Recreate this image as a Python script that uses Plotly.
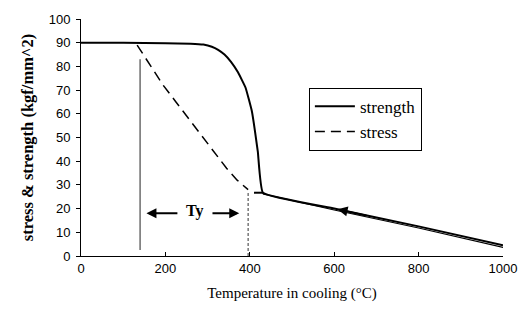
import plotly.graph_objects as go

# Strength curve (kgf/mm^2) vs temperature in cooling (°C)
strength_T = [0, 100, 200, 260, 290, 310, 325, 340, 355, 372, 390, 405, 419, 431, 600, 800, 1000]
strength_v = [90, 90, 89.8, 89.6, 89.2, 88.3, 87, 85, 82, 77.5, 71, 61, 44, 26.7, 20, 12.5, 4.5]

# Stress curve
stress_T = [133, 165, 195, 225, 255, 285, 315, 345, 370, 396]
stress_v = [89, 80, 72, 65, 58, 51, 44, 37, 32, 28]
stress_hot_T = [431, 600, 800, 1000]
stress_hot_v = [26.2, 19.4, 11.8, 3.6]

# short horizontal stub at the junction
stub_T = [410, 431]
stub_v = [26.7, 26.7]

# vertical marker lines
mark1_T = [140, 140]
mark1_v = [2.5, 83]
mark2_T = [396, 396]
mark2_v = [0, 26.7]

x_ticks = [0, 200, 400, 600, 800, 1000]
y_ticks = [0, 10, 20, 30, 40, 50, 60, 70, 80, 90, 100]

serif = "Liberation Serif, Times New Roman, serif"
sans = "Liberation Sans, Arial, sans-serif"

fig = go.Figure()
fig.add_trace(go.Scatter(x=strength_T, y=strength_v, mode="lines", name="strength",
                         line=dict(color="black", width=2, shape="spline", smoothing=0.3)))
fig.add_trace(go.Scatter(x=stress_T, y=stress_v, mode="lines", name="stress",
                         line=dict(color="black", width=1.5, dash="10px,6px")))
fig.add_trace(go.Scatter(x=stress_hot_T, y=stress_hot_v, mode="lines", showlegend=False,
                         line=dict(color="black", width=1.2)))
fig.add_trace(go.Scatter(x=stub_T, y=stub_v, mode="lines", showlegend=False,
                         line=dict(color="black", width=2)))
fig.add_trace(go.Scatter(x=mark1_T, y=mark1_v, mode="lines", showlegend=False,
                         line=dict(color="#555555", width=1.3)))
fig.add_trace(go.Scatter(x=mark2_T, y=mark2_v, mode="lines", showlegend=False,
                         line=dict(color="#333333", width=1, dash="3px,2px")))

annotations = [
    dict(x=270, y=19, text="<b>Ty</b>", showarrow=False,
         font=dict(family=serif, size=16, color="black")),
    dict(x=155, y=18, ax=232, ay=18, xref="x", yref="y", axref="x", ayref="y",
         text="", showarrow=True, arrowhead=2, arrowsize=1, arrowwidth=2, arrowcolor="black"),
    dict(x=375, y=18, ax=308, ay=18, xref="x", yref="y", axref="x", ayref="y",
         text="", showarrow=True, arrowhead=2, arrowsize=1, arrowwidth=2, arrowcolor="black"),
    dict(x=608, y=19.7, ax=680, ay=16.9, xref="x", yref="y", axref="x", ayref="y",
         text="", showarrow=True, arrowhead=2, arrowsize=1, arrowwidth=2, arrowcolor="black"),
]

fig.update_layout(
    width=530, height=322,
    margin=dict(l=81, r=27, t=16, b=66),
    paper_bgcolor="white", plot_bgcolor="white",
    annotations=annotations,
    legend=dict(x=0.54, y=0.71, xanchor="left", yanchor="top",
                bordercolor="black", borderwidth=1, bgcolor="white",
                font=dict(family=serif, size=17, color="black"),
                itemwidth=40, tracegroupgap=6, entrywidth=110, entrywidthmode="pixels"),
    xaxis=dict(range=[0, 1000], tickvals=x_ticks, showgrid=False, zeroline=False,
               showline=True, linecolor="black", linewidth=1,
               ticks="inside", ticklen=4, tickcolor="black",
               tickfont=dict(family=sans, size=13, color="black"),
               title=dict(text="Temperature in cooling (°C)", standoff=12,
                          font=dict(family=serif, size=15, color="black"))),
    yaxis=dict(range=[0, 100], tickvals=y_ticks, showgrid=False, zeroline=False,
               showline=True, linecolor="black", linewidth=1,
               ticks="outside", ticklen=4, tickcolor="black", ticklabelstandoff=3,
               tickfont=dict(family=sans, size=13, color="black"),
               title=dict(text="<b>stress & strength (kgf/mm^2)</b>", standoff=10,
                          font=dict(family=serif, size=16.5, color="black"))),
)

fig.write_html("out.html")
